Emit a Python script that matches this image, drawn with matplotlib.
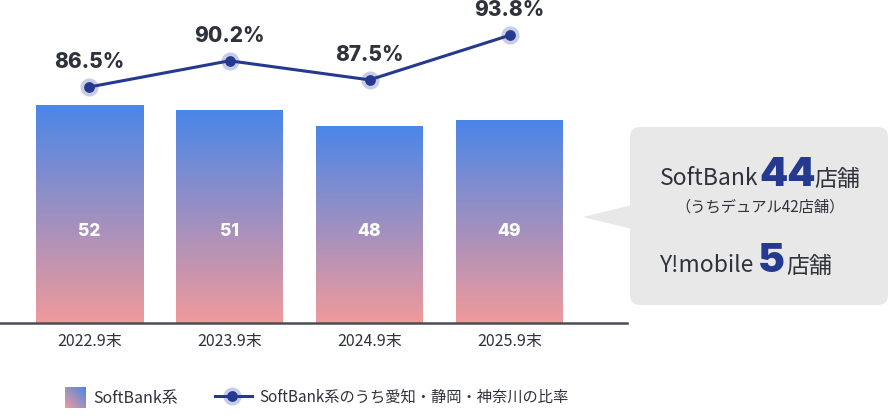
import matplotlib
matplotlib.use('Agg')
import matplotlib.pyplot as plt
import numpy as np
from matplotlib.patches import FancyBboxPatch, Polygon
from matplotlib.colors import LinearSegmentedColormap

categories = ['2022.9末', '2023.9末', '2024.9末', '2025.9末']
store_counts = [52, 51, 48, 49]
ratio = [86.5, 90.2, 87.5, 93.8]
legend_labels = ['SoftBank系', 'SoftBank系のうち愛知・静岡・神奈川の比率']

plt.rcParams['font.family'] = ['Noto Sans CJK JP', 'DejaVu Sans']

W, H = 890, 420
fig = plt.figure(figsize=(W / 100, H / 100), dpi=100)

PINK = '#f09a9b'
BLUE = '#4a86e8'
NAVY = '#24398f'
TEXT = '#2e323a'
cmap = LinearSegmentedColormap.from_list('grad', [PINK, BLUE])

ax = fig.add_axes([0, (H - 323) / H, 627 / W, 323 / H])
x = np.arange(len(categories))
ymin, ymax = 9.3, 72.6
ax.set_xlim(-89.5 / 140, (627 - 89.5) / 140)
ax.set_ylim(ymin, ymax)
bw = 107 / 140
bars = ax.bar(x, store_counts, width=bw, color='none', edgecolor='none')
grad = np.linspace(0, 1, 256).reshape(-1, 1)
for b, v in zip(bars, store_counts):
    im = ax.imshow(grad, cmap=cmap, origin='lower', aspect='auto',
                   extent=(b.get_x(), b.get_x() + b.get_width(), ymin, v),
                   zorder=1)
    im.set_clip_path(b)
for xi, v in zip(x, store_counts):
    ax.text(xi, 0.283, str(v), transform=ax.get_xaxis_transform(),
            ha='center', va='center', color='white', fontsize=12.5,
            fontweight='heavy', family=['Inter', 'DejaVu Sans'], zorder=3)
ax.set_xlim(-89.5 / 140, (627 - 89.5) / 140)
ax.set_ylim(ymin, ymax)

for s in ['top', 'right', 'left']:
    ax.spines[s].set_visible(False)
ax.spines['bottom'].set_color('#4a4d55')
ax.spines['bottom'].set_linewidth(1.8)
ax.set_yticks([])
ax.set_xticks(x, categories)
ax.tick_params(axis='x', length=0, pad=7, labelsize=11.5, labelcolor=TEXT)
ax.patch.set_visible(False)

ax2 = ax.twinx()
ax2.set_ylim(53.1, 98.8)
ax2.set_yticks([])
for s in ['top', 'right', 'left', 'bottom']:
    ax2.spines[s].set_visible(False)
ax2.scatter(x, ratio, s=170, color='#c8cde6', zorder=2, linewidths=0)
ax2.plot(x, ratio, color=NAVY, lw=2.2, zorder=3)
ax2.scatter(x, ratio, s=60, color=NAVY, zorder=4, linewidths=0)
for xi, v in zip(x, ratio):
    ax2.annotate(f'{v}%', (xi, v), xytext=(0, 18), textcoords='offset points',
                 ha='center', va='center', fontsize=15, fontweight='heavy',
                 color=TEXT, family=['Inter', 'DejaVu Sans'])

# overlay for callout and legend
ov = fig.add_axes([0, 0, 1, 1])
ov.set_xlim(0, W)
ov.set_ylim(H, 0)
ov.axis('off')

ov.add_patch(Polygon([(583, 217), (632, 205), (632, 229)], closed=True,
                     fc='#e8e8e8', ec='none'))
ov.add_patch(FancyBboxPatch((630, 127), 258, 178,
                            boxstyle='round,pad=0,rounding_size=10',
                            fc='#e8e8e8', ec='none'))
ov.text(660, 185, 'SoftBank', fontsize=16.5, color=TEXT, va='baseline', ha='left')
ov.text(759, 185.5, '44', fontsize=29, color=NAVY, va='baseline', ha='left',
        fontweight='black', family=['Inter', 'DejaVu Sans'])
ov.text(814, 186, '店舗', fontsize=16.5, color=TEXT, va='baseline', ha='left')
ov.text(760, 207, '（うちデュアル42店舗）', fontsize=11, color=TEXT,
        va='center', ha='center')
ov.text(659, 272, 'Y!mobile', fontsize=16.5, color=TEXT, va='baseline', ha='left')
ov.text(758, 272.5, '5', fontsize=29, color=NAVY, va='baseline', ha='left',
        fontweight='black', family=['Inter', 'DejaVu Sans'])
ov.text(786, 273, '店舗', fontsize=16.5, color=TEXT, va='baseline', ha='left')

# legend
gx, gy = np.meshgrid(np.linspace(0, 1, 64), np.linspace(0, 1, 64))
ov.imshow((gx + (1 - gy)) / 2, cmap=cmap, extent=(65, 86, 408, 387),
          origin='upper', aspect='auto')
ov.text(93, 398, legend_labels[0], fontsize=11.5, color=TEXT, va='center', ha='left')
ov.plot([215, 252], [396, 396], color=NAVY, lw=2.2, zorder=3)
ov.scatter([232], [396], s=170, color='#c8cde6', zorder=2, linewidths=0)
ov.scatter([232], [396], s=60, color=NAVY, zorder=4, linewidths=0)
ov.text(259, 397, legend_labels[1], fontsize=11, color=TEXT, va='center', ha='left')
ov.set_xlim(0, W)
ov.set_ylim(H, 0)

fig.savefig('out.png', dpi=100)
